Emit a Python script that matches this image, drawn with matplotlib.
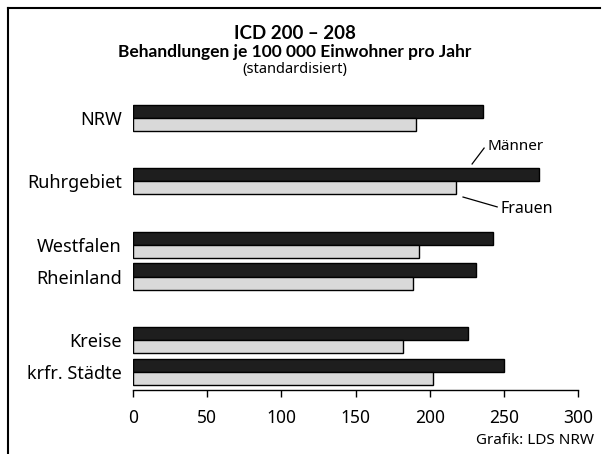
import matplotlib
matplotlib.use("Agg")
import matplotlib.pyplot as plt
from matplotlib.lines import Line2D

# Werte (Behandlungen je 100 000 Einwohner)
regionen = ["NRW", "Ruhrgebiet", "Westfalen", "Rheinland", "Kreise", "krfr. Städte"]
positionen = [0, 2, 4, 5, 7, 8]
maenner = [236, 274, 243, 231, 226, 250]
frauen = [191, 218, 193, 189, 182, 202]
xticks = [0, 50, 100, 150, 200, 250, 300]

plt.rcParams['font.family'] = ['Noto Sans', 'DejaVu Sans']
fett = ['Lato', 'DejaVu Sans']

fig = plt.figure(figsize=(6.07, 4.54), dpi=100)
ax = fig.add_axes([133 / 607, 64 / 454, 445 / 607, 295 / 454])

h = 0.41
y_m = [p - h / 2 for p in positionen]
y_f = [p + h / 2 for p in positionen]
ax.barh(y_m, maenner, height=h, color="#1e1e1e", edgecolor="black", linewidth=1)
ax.barh(y_f, frauen, height=h, color="#d9d9d9", edgecolor="black", linewidth=1)

ax.set_xlim(0, 300)
ax.set_ylim(8.57, -0.71)
ax.set_xticks(xticks)
ax.set_xticklabels([str(v) for v in xticks], fontsize=12.5)
ax.set_yticks(positionen)
ax.set_yticklabels(regionen, fontsize=13)
ax.tick_params(axis="y", length=0, pad=8)
ax.tick_params(axis="x", length=5, width=1, pad=9, color="black")
for s in ["top", "right", "left"]:
    ax.spines[s].set_visible(False)
ax.spines["bottom"].set_linewidth(1)

# Beschriftung Männer / Frauen
ax.plot([228.6, 236.7], [1.46, 0.96], color="black", linewidth=0.9)
ax.text(238.7, 0.90, "Männer", fontsize=11, va="center", ha="left")
ax.plot([222.5, 245.5], [2.5, 2.81], color="black", linewidth=0.9)
ax.text(247.5, 2.88, "Frauen", fontsize=11.5, va="center", ha="left")

fig.text(0.486, 0.927, "ICD 200 – 208", ha="center", va="center", fontsize=13.5,
         fontweight="bold", family=fett)
fig.text(0.486, 0.885, "Behandlungen je 100 000 Einwohner pro Jahr", ha="center", va="center",
         fontsize=12.5, fontweight="bold", family=fett)
fig.text(0.486, 0.846, "(standardisiert)", ha="center", va="center", fontsize=10.5)
fig.text(594 / 607, 1 - 441 / 454, "Grafik: LDS NRW", ha="right", va="center", fontsize=11)

# Rahmen links und oben
fig.add_artist(Line2D([8 / 607, 8 / 607], [0, 1 - 8 / 454], color="black", linewidth=1.5))
fig.add_artist(Line2D([8 / 607, 600 / 607], [1 - 8 / 454, 1 - 8 / 454], color="black", linewidth=1.5))

fig.savefig("out.png", dpi=100)
